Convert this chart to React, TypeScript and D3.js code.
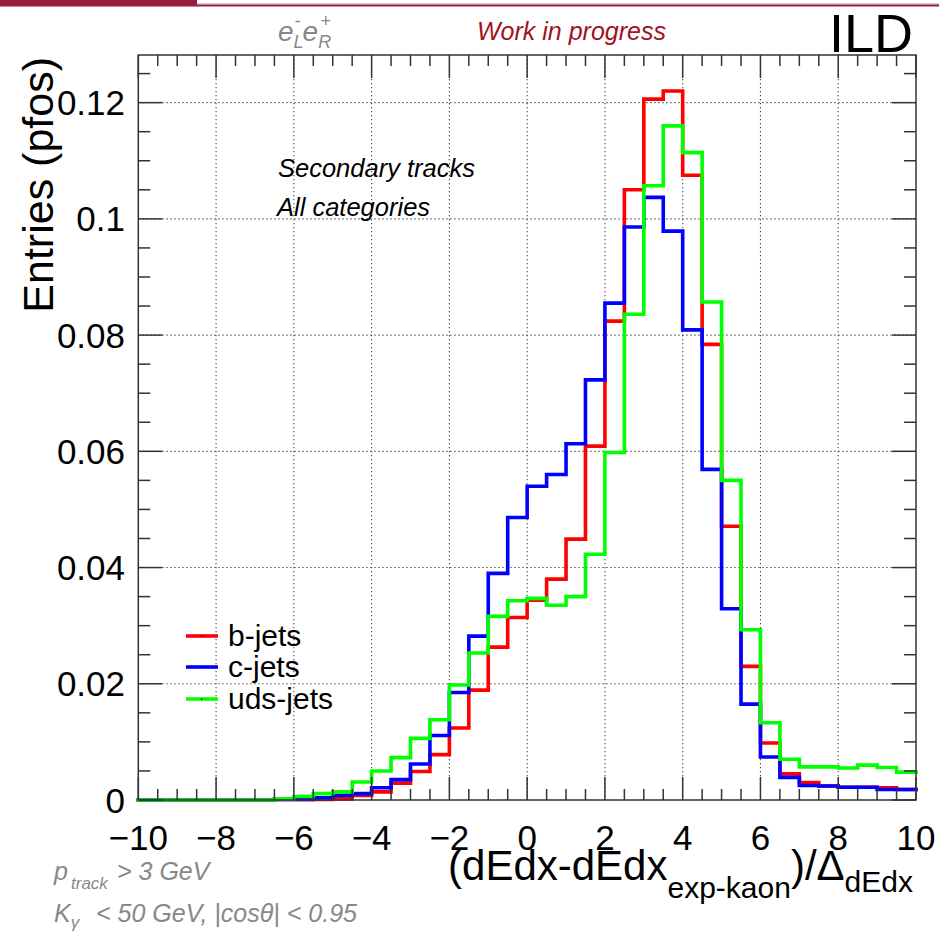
import React from "react";
import * as d3 from "d3";

// bin edges of the dE/dx kaon pull histogram
const binEdges = [
  -10, -9.5, -9, -8.5, -8, -7.5, -7, -6.5, -6, -5.5,
  -5, -4.5, -4, -3.5, -3, -2.5, -2, -1.5, -1, -0.5,
  0, 0.5, 1, 1.5, 2, 2.5, 3, 3.5, 4, 4.5,
  5, 5.5, 6, 6.5, 7, 7.5, 8, 8.5, 9, 9.5, 10,
];

const bJets = [
  0, 0, 0, 0, 0, 0, 0, 0.0001, 0.0001, 0.0001,
  0.0002, 0.0008, 0.0014, 0.0029, 0.0049, 0.0078, 0.0124, 0.0189, 0.0263, 0.0314,
  0.0344, 0.038, 0.0449, 0.0609, 0.0824, 0.105, 0.1206, 0.122, 0.1075, 0.0784,
  0.0471, 0.023, 0.0098, 0.0045, 0.003, 0.0024, 0.0022, 0.0022, 0.0021, 0.0018,
];
const cJets = [
  0, 0, 0, 0, 0, 0, 0, 0.0001, 0.0001, 0.0004,
  0.0008, 0.0011, 0.0021, 0.0035, 0.0062, 0.0111, 0.0185, 0.0282, 0.039, 0.0486,
  0.054, 0.056, 0.0613, 0.0723, 0.0855, 0.0986, 0.1037, 0.0979, 0.0809, 0.0569,
  0.0329, 0.0165, 0.0074, 0.0039, 0.0025, 0.0024, 0.0022, 0.0022, 0.0018, 0.0018,
];
const udsJets = [
  0, 0, 0, 0, 0, 0, 0, 0.0002, 0.0006, 0.0011,
  0.0014, 0.0031, 0.005, 0.0073, 0.0106, 0.0138, 0.0198, 0.0253, 0.0316, 0.0343,
  0.0347, 0.0335, 0.035, 0.0423, 0.0598, 0.0836, 0.1057, 0.116, 0.1114, 0.0857,
  0.055, 0.0293, 0.0133, 0.007, 0.0057, 0.0057, 0.0055, 0.006, 0.0056, 0.0048,
];

const seriesNames = ["b-jets", "c-jets", "uds-jets"];
const seriesColors = ["#ff0000", "#0000ff", "#00ff00"];

const xMajor = [-10, -8, -6, -4, -2, 0, 2, 4, 6, 8, 10];
const yMajor = [0, 0.02, 0.04, 0.06, 0.08, 0.1, 0.12];
const yLabels = ["0", "0.02", "0.04", "0.06", "0.08", "0.1", "0.12"];

const FONT = "'Liberation Sans', Arial, Helvetica, sans-serif";

export default function App() {
  const W = 939;
  const H = 933;
  const left = 138.3, right = 916, top = 55, bottom = 800;

  const x = d3.scaleLinear().domain([-10, 10]).range([left, right]);
  const y = d3.scaleLinear().domain([0, 0.1282]).range([bottom, top]);

  const xMinor = d3.range(-10, 10.001, 0.5);
  const yMinor = d3.range(0, 0.1282, 0.005);

  const stepLine = d3
    .line<[number, number]>()
    .x((d) => x(d[0]))
    .y((d) => y(d[1]))
    .curve(d3.curveStepAfter);

  const histPath = (vals: number[]) => {
    const pts: [number, number][] = vals.map((v, i) => [binEdges[i], v]);
    pts.push([binEdges[vals.length], vals[vals.length - 1]]);
    return stepLine(pts) || "";
  };

  const allSeries = [bJets, cJets, udsJets];

  const legendY = [636, 667, 699];

  return (
    <svg
      width={W}
      height={H}
      style={{ position: "absolute", left: 0, top: 0, background: "#fff" }}
      fontFamily={FONT}
    >
      <rect x={0} y={0} width={W} height={H} fill="#fff" />
      {/* top banner */}
      <rect x={0} y={0} width={197} height={6.5} fill="#981d3a" />
      <rect x={197} y={3} width={W - 197} height={1.5} fill="#cfcfcf" />
      <rect x={197} y={4.5} width={W - 197} height={2} fill="#981d3a" />

      {/* grid */}
      <g stroke="#444" strokeWidth={1.1} strokeDasharray="1.3,2.7">
        {xMajor.slice(1, -1).map((t) => (
          <line key={"gx" + t} x1={x(t)} x2={x(t)} y1={top} y2={bottom} />
        ))}
        {yMajor.slice(1).map((t) => (
          <line key={"gy" + t} x1={left} x2={right} y1={y(t)} y2={y(t)} />
        ))}
      </g>

      {/* histograms */}
      {allSeries.map((s, i) => (
        <path
          key={seriesNames[i]}
          d={histPath(s)}
          fill="none"
          stroke={seriesColors[i]}
          strokeWidth={3.6}
          strokeLinejoin="miter"
          strokeLinecap="square"
        />
      ))}

      {/* frame and ticks */}
      <g stroke="#333" strokeWidth={1.5}>
        <rect x={left} y={top} width={right - left} height={bottom - top} fill="none" />
        {xMinor.map((t) => {
          const big = xMajor.includes(t);
          const len = big ? 23 : 11;
          return (
            <g key={"xt" + t}>
              <line x1={x(t)} x2={x(t)} y1={bottom} y2={bottom - len} />
              <line x1={x(t)} x2={x(t)} y1={top} y2={top + len} />
            </g>
          );
        })}
        {yMinor.map((t, i) => {
          const big = i % 4 === 0;
          const len = big ? 24 : 12;
          return (
            <g key={"yt" + i}>
              <line x1={left} x2={left + len} y1={y(t)} y2={y(t)} />
              <line x1={right} x2={right - len} y1={y(t)} y2={y(t)} />
            </g>
          );
        })}
      </g>

      {/* tick labels */}
      <g fontSize={35} fill="#000">
        {xMajor.map((t) => (
          <text key={"xl" + t} x={x(t)} y={850} textAnchor="middle">
            {t < 0 ? "\u2212" + Math.abs(t) : String(t)}
          </text>
        ))}
        {yMajor.map((t, i) => (
          <text key={"yl" + t} x={125} y={y(t) + 12.5} textAnchor="end">
            {yLabels[i]}
          </text>
        ))}
      </g>

      {/* axis titles */}
      <text x={913} y={880} textAnchor="end" fontSize={42} fill="#000">
        (dEdx-dEdx
        <tspan fontSize={30} dy={18}>exp-kaon</tspan>
        <tspan fontSize={42} dy={-18}>)/Δ</tspan>
        <tspan fontSize={30} dy={12}>dEdx</tspan>
      </text>
      <text
        transform="translate(53,57) rotate(-90)"
        textAnchor="end"
        fontSize={43}
        fill="#000"
      >
        Entries (pfos)
      </text>

      {/* header texts */}
      <text x={278} y={41} fontSize={28} fill="#888" fontStyle="italic">
        e
        <tspan fontSize={18} dy={7}>L</tspan>
        <tspan fontSize={18} dx={-9} dy={-21}>-</tspan>
        <tspan fontSize={28} dx={2} dy={14}>e</tspan>
        <tspan fontSize={18} dy={7}>R</tspan>
        <tspan fontSize={18} dx={-11} dy={-21}>+</tspan>
      </text>
      <text x={477} y={40} fontSize={25} fill="#a3121c" fontStyle="italic">
        Work in progress
      </text>
      <text x={913} y={52} textAnchor="end" fontSize={54} fill="#000">
        ILD
      </text>

      <text x={278} y={177} fontSize={25.5} fontStyle="italic" fill="#000">
        Secondary tracks
      </text>
      <text x={277} y={216} fontSize={25.5} fontStyle="italic" fill="#000">
        All categories
      </text>

      {/* legend */}
      {seriesNames.map((n, i) => (
        <g key={"lg" + n}>
          <line
            x1={186}
            x2={218}
            y1={legendY[i]}
            y2={legendY[i]}
            stroke={seriesColors[i]}
            strokeWidth={3.6}
          />
          <rect x={201} y={legendY[i] - 0.5} width={1.2} height={1.2} fill="#000" />
          <text x={228} y={legendY[i] + 10} fontSize={30} fill="#000">
            {n}
          </text>
        </g>
      ))}

      {/* cut annotations */}
      <g fill="#888" fontStyle="italic">
        <text x={54} y={880} fontSize={25}>
          p
          <tspan fontSize={17} x={71} dy={9}>track</tspan>
          <tspan fontSize={25} x={117} dy={-9}>&gt; 3 GeV</tspan>
        </text>
        <text x={54} y={922} fontSize={25}>
          K
          <tspan fontSize={17} dy={6}>γ</tspan>
          <tspan fontSize={25} x={96} dy={-6}>&lt; 50 GeV, |cosθ| &lt; 0.95</tspan>
        </text>
      </g>
    </svg>
  );
}
